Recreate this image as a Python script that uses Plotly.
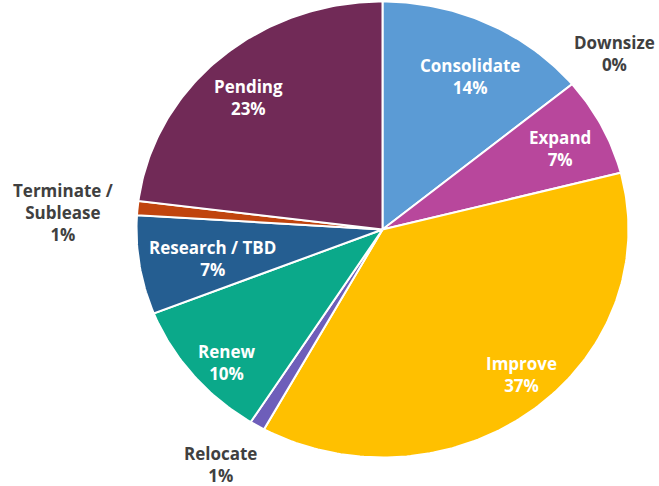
import numpy as np
import plotly.graph_objects as go

labels = ["Consolidate", "Downsize", "Expand", "Improve", "Relocate", "Renew",
          "Research / TBD", "Terminate / Sublease", "Pending"]
values = [14, 0, 7, 37, 1, 10, 7, 1, 23]
colors = ["#5B9BD5", "#A5A5A5", "#B8479C", "#FFC000", "#6E5EBA", "#0BA98A",
          "#255E91", "#C0440E", "#712A57"]
display_names = ["Consolidate", "Downsize", "Expand", "Improve", "Relocate", "Renew",
                 "Research / TBD", "Terminate /<br>Sublease", "Pending"]

# label placement (pixel positions) and whether label sits inside the slice
label_pos = {
    "Consolidate": (470, 76, True),
    "Downsize": (614, 53, False),
    "Expand": (560, 148, True),
    "Improve": (521, 374, True),
    "Relocate": (220, 464, False),
    "Renew": (226, 362, True),
    "Research / TBD": (212, 258, True),
    "Terminate / Sublease": (63, 212, False),
    "Pending": (248, 97, True),
}

W, H = 659, 486
FONT = "Open Sans"
# pie geometry (slightly elliptical, as in the reference), in pixel units
CX, CY, RX, RY = 382.5, 229.5, 246, 228

fig = go.Figure()
total = sum(values)
start = 0.0
for lab, v, col in zip(labels, values, colors):
    frac = v / total
    if frac > 0:
        t = np.linspace(start, start + frac, max(3, int(frac * 400))) * 2 * np.pi
        xs = np.concatenate([[CX], CX + RX * np.sin(t), [CX]])
        ys = np.concatenate([[CY], CY - RY * np.cos(t), [CY]])
        fig.add_trace(go.Scatter(
            x=xs, y=ys, mode="lines", fill="toself", fillcolor=col,
            line=dict(color="white", width=2), name=lab,
            hoveron="fills", hoverinfo="text",
            text=f"{lab}: {round(100*frac)}%", showlegend=False))
    start += frac

for lab, name, v in zip(labels, display_names, values):
    px, py, inside = label_pos[lab]
    pct = round(100 * v / total)
    fig.add_annotation(text=f"{name}<br>{pct}%", x=px, y=py,
                       xref="x", yref="y", showarrow=False,
                       xanchor="center", yanchor="middle",
                       font=dict(family=FONT, size=17, weight="bold",
                                 color="white" if inside else "#404040"))

fig.update_layout(width=W, height=H, margin=dict(l=0, r=0, t=0, b=0),
                  paper_bgcolor="white", plot_bgcolor="white",
                  xaxis=dict(range=[0, W], visible=False, fixedrange=True),
                  yaxis=dict(range=[H, 0], visible=False, fixedrange=True))
fig.write_html("out.html")
